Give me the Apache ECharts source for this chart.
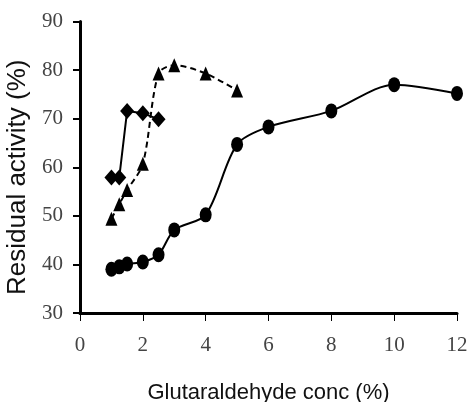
<!DOCTYPE html>
<html>
<head>
<meta charset="utf-8">
<script src="https://cdn.jsdelivr.net/npm/echarts@6/dist/echarts.min.js"></script>
<style>
  html, body { margin: 0; padding: 0; background: #fff; }
  #chart { width: 470px; height: 402px; }
</style>
</head>
<body>
<div id="chart"></div>
<script>
// Glutaraldehyde concentrations (%) for each series
const diamondConc = [1, 1.25, 1.5, 2, 2.5];
const diamondActivity = [57.9, 57.9, 71.6, 71.1, 69.9];

const triangleConc = [1, 1.25, 1.5, 2, 2.5, 3, 4, 5];
const triangleActivity = [49.4, 52.4, 55.3, 60.7, 79.3, 81.0, 79.3, 75.8];

const circleConc = [1, 1.25, 1.5, 2, 2.5, 3, 4, 5, 6, 8, 10, 12];
const circleActivity = [39.0, 39.5, 40.1, 40.5, 42.0, 47.1, 50.2, 64.7, 68.3, 71.6, 77.0, 75.2];

const xTitle = 'Glutaraldehyde conc (%)';
const yTitle = 'Residual activity (%)';

const pair = (xs, ys) => xs.map((x, i) => [x, ys[i]]);

const chart = echarts.init(document.getElementById('chart'));
const tickFont = { fontFamily: 'Liberation Serif', fontSize: 21, color: '#444' };

chart.setOption({
  animation: false,
  grid: { left: 80, right: 13, top: 21.5, bottom: 89, outerBoundsMode: 'none', containLabel: false },
  xAxis: {
    type: 'value', min: 0, max: 12, interval: 2,
    name: xTitle, nameLocation: 'middle', nameGap: 69,
    nameTextStyle: { fontFamily: 'Liberation Sans', fontSize: 22, color: '#111' },
    axisLine: { lineStyle: { color: '#000', width: 3 } },
    axisTick: { show: true, inside: false, length: 8, lineStyle: { color: '#000', width: 1 } },
    axisLabel: Object.assign({ margin: 22 }, tickFont),
    splitLine: { show: false }
  },
  yAxis: {
    type: 'value', min: 30, max: 90, interval: 10,
    name: yTitle, nameLocation: 'middle', nameGap: 45,
    nameTextStyle: { fontFamily: 'Liberation Sans', fontSize: 26, color: '#111', padding: [0, 20, 0, 0] },
    axisLine: { show: true, lineStyle: { color: '#000', width: 3 } },
    axisTick: { show: true, inside: false, length: 7, lineStyle: { color: '#000', width: 2 } },
    axisLabel: Object.assign({ margin: 17 }, tickFont),
    splitLine: { show: false }
  },
  series: [
    {
      type: 'line', data: pair(circleConc, circleActivity), smooth: 0.3,
      symbol: 'circle', symbolSize: [12, 15],
      itemStyle: { color: '#000' }, lineStyle: { color: '#000', width: 2 }
    },
    {
      type: 'line', data: pair(triangleConc, triangleActivity), smooth: 0.3,
      symbol: 'triangle', symbolSize: [12, 14],
      itemStyle: { color: '#000' }, lineStyle: { color: '#000', width: 2, type: [6, 4] }
    },
    {
      type: 'line', data: pair(diamondConc, diamondActivity), smooth: false,
      symbol: 'diamond', symbolSize: [14, 16],
      itemStyle: { color: '#000' }, lineStyle: { color: '#000', width: 2 }
    }
  ]
});
</script>
</body>
</html>
